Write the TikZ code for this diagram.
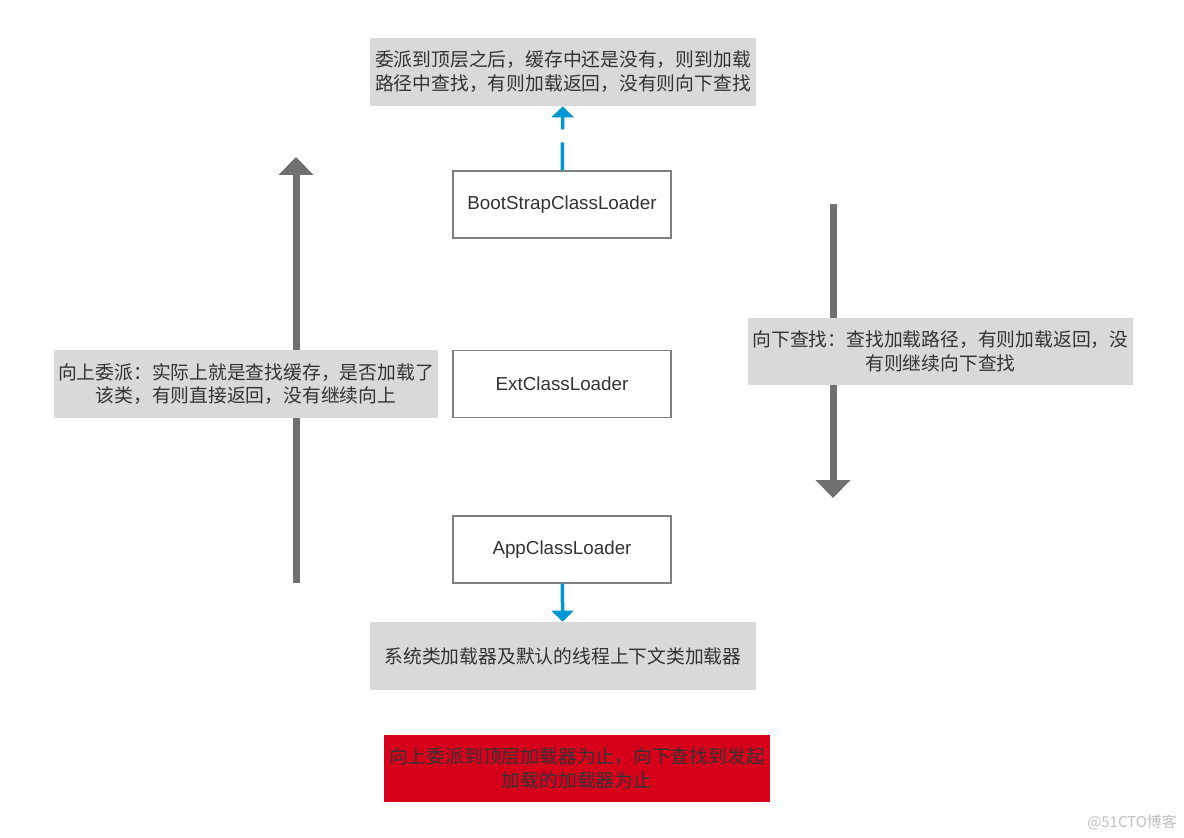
\documentclass[tikz,border=0pt]{standalone}
\usepackage{fontspec}
\setmainfont{Liberation Sans}
\newfontfamily\cjk{Noto Sans CJK SC}
\usepackage{tikz}
\usetikzlibrary{arrows.meta}
\definecolor{boxgray}{RGB}{217,217,217}
\definecolor{linegray}{RGB}{128,128,128}
\definecolor{bararrow}{RGB}{112,112,112}
\definecolor{bluearrow}{RGB}{0,150,210}
\definecolor{alertred}{RGB}{215,0,27}
\definecolor{txt}{RGB}{51,51,51}

\begin{document}
\begin{tikzpicture}[x=0.02cm,y=-0.02cm,
  note/.style={fill=boxgray,minimum width=7.72cm,minimum height=1.36cm,inner sep=0pt,align=center,
    text=txt,font=\cjk\fontsize{10.7}{13.6}\selectfont},
  loader/.style={draw=linegray,line width=0.7pt,fill=white,minimum width=4.36cm,minimum height=1.34cm,
    inner sep=0pt,text=txt,font=\fontsize{10.7}{13.6}\selectfont},
  bigarrow/.style={draw=bararrow,line width=0.14cm,-{Triangle[width=0.68cm,length=0.36cm]}},
  thinarrow/.style={draw=bluearrow,line width=0.07cm,-{Triangle[width=0.44cm,length=0.22cm]}}]
\useasboundingbox (0,0) rectangle (1184,838);

\coordinate (upS) at (296,583);
\coordinate (upE) at (296,157);
\coordinate (downS) at (833,204);
\coordinate (downE) at (833,498);
\draw[bigarrow] (upS) -- (upE);
\draw[bigarrow] (downS) -- (downE);

\node[note] (top) at (563,72) {委派到顶层之后，缓存中还是没有，则到加载\\路径中查找，有则加载返回，没有则向下查找};
\node[loader] (boot) at (562,204.5) {BootStrapClassLoader};
\node[loader] (ext) at (562,384) {ExtClassLoader};
\node[loader] (app) at (562,549.5) {AppClassLoader};
\node[note] (sys) at (563,656) {系统类加载器及默认的线程上下文类加载器};
\node[note,minimum width=7.68cm] (up) at (246,384) {向上委派：实际上就是查找缓存，是否加载了\\该类，有则直接返回，没有继续向上};
\node[note,minimum width=7.7cm,minimum height=1.34cm] (down) at (940.5,351.5) {向下查找：查找加载路径，有则加载返回，没\\有则继续向下查找};
\node[note,fill=alertred,minimum height=1.34cm] (stop) at (577,768.5) {向上委派到顶层加载器为止，向下查找到发起\\加载的加载器为止};

\draw[thinarrow,dash pattern=on 0.56cm off 0.26cm] (boot) -- (top);
\draw[thinarrow] (app) -- (sys);

\node[text=black!25,font=\cjk\fontsize{8.5}{10}\selectfont] (mark) at (1132,822) {@51CTO博客};
\end{tikzpicture}
\end{document}
